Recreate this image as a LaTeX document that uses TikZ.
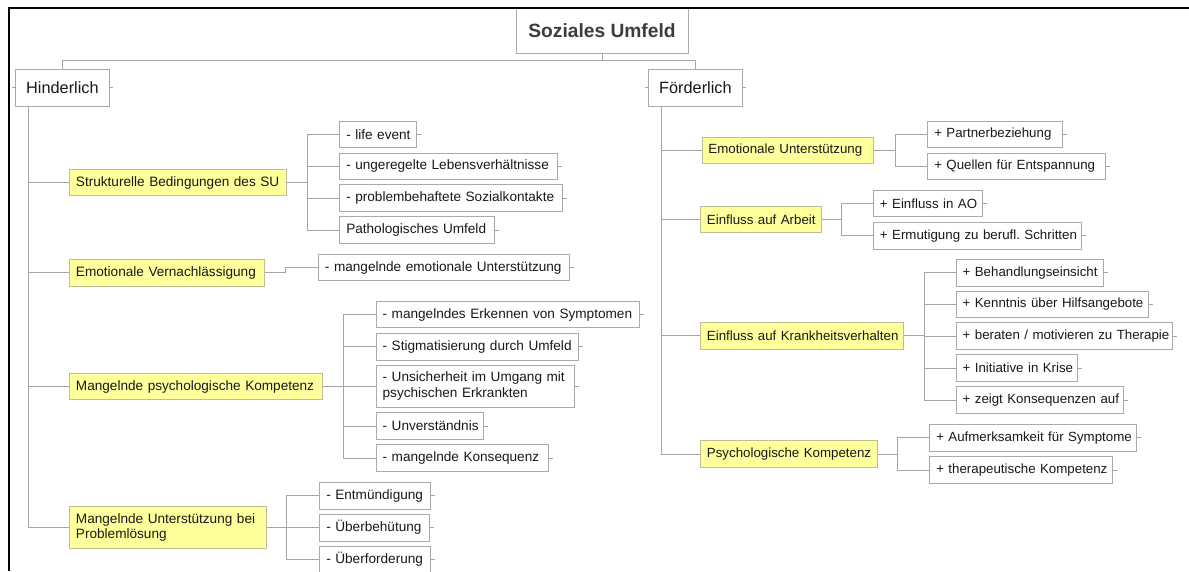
\documentclass[tikz,border=0pt]{standalone}
\usepackage{fontspec}
\setmainfont{Liberation Sans}
\usetikzlibrary{calc}
\frenchspacing
\definecolor{linegray}{RGB}{165,165,165}
\definecolor{boxgray}{RGB}{170,170,170}
\definecolor{ylw}{RGB}{255,255,155}
\definecolor{ylwborder}{RGB}{190,190,150}
\definecolor{txt}{RGB}{25,25,25}
\definecolor{darktxt}{RGB}{60,60,60}
\begin{document}
\begin{tikzpicture}[x=1pt,y=-1pt,
  conn/.style={draw=linegray, line width=0.9pt},
  bw/.code={\pgfmathsetmacro\tw{#1-13}\edef\tmp{\noexpand\tikzset{text width=\tw pt}}\tmp},
  oneline/.style={execute at begin node={\frenchspacing\hbox\bgroup}, execute at end node={\egroup}},
  leafbase/.style={draw=boxgray, line width=0.9pt, fill=white, anchor=west,
    minimum height=26.5pt, inner xsep=6.5pt, inner ysep=2pt,
    font=\fontsize{13.6}{15.5}\selectfont, text=txt, align=left},
  leaf/.style={leafbase, oneline},
  catbase/.style={leafbase, fill=ylw, draw=ylwborder},
  cat/.style={catbase, oneline},
  rsize/.style={font=\fontsize{13.3}{15.5}\selectfont},
  branchbox/.style={draw=boxgray, line width=0.9pt, fill=white, anchor=west,
    minimum height=37pt, minimum width=94pt,
    font=\fontsize{16.3}{19}\selectfont, text=txt},
  mainbox/.style={draw=boxgray, line width=0.9pt, fill=white,
    minimum width=172pt, minimum height=45pt,
    font=\bfseries\fontsize{19.2}{22}\selectfont, text=darktxt}]
\useasboundingbox (0,0) rectangle (1189,571);

% root and main branches
\node[mainbox] (root) at (602,30.5) {Soziales Umfeld};
\node[branchbox] (hind) at (15,87.5) {Hinderlich};
\node[branchbox] (foerd) at (648,87.5) {Förderlich};
\coordinate (rj) at (602,60.7);
\draw[conn] (root.south) -- (rj);
\draw[conn] (hind.north) |- (rj) -| (foerd.north);
\draw[conn] (hind.west) -- ++(-3,0) (hind.east) -- ++(3,0);
\draw[conn] (foerd.west) -- ++(-3,0) (foerd.east) -- ++(3,0);

% ---------- Hinderlich ----------
\coordinate (ht) at ($(hind.south west)+(13.7,0)$);
\node[cat, bw=216.7] (c1) at (69,182.5) {Strukturelle Bedingungen des SU};
\node[cat, bw=195] (c2) at (69,272.8) {Emotionale Vernachlässigung};
\node[cat, bw=252.7] (c3) at (69,386.5) {Mangelnde psychologische Kompetenz};
\node[catbase, bw=196.7, minimum height=42pt] (c4) at (69,527.7) {Mangelnde Unterstützung bei\\Problemlösung};
\draw[conn] (ht) |- (c1.west) (ht) |- (c2.west) (ht) |- (c3.west) (ht) |- (c4.west);

% group 1
\coordinate (b1) at (307,182.5);
\node[leaf, bw=76.4] (l11) at (339.3,134.5) {- life event};
\node[leaf, bw=217.4] (l12) at (339.3,166.2) {- ungeregelte Lebensverhältnisse};
\node[leaf, bw=223] (l13) at (339.3,198) {- problembehaftete Sozialkontakte};
\node[leaf, bw=154.4] (l14) at (339.3,230) {Pathologisches Umfeld};
\draw[conn] (c1.east) -- (b1);
\draw[conn] (b1) |- (l11.west) (b1) |- (l12.west) (b1) |- (l13.west) (b1) |- (l14.west);

% group 2
\node[leaf, bw=250.7] (l21) at (318,267.5) {- mangelnde emotionale Unterstützung};
\draw[conn] (c2.east) -- ++(21,0) |- (l21.west);

% group 3
\coordinate (b3) at (343.3,386.5);
\node[leaf, bw=263.3] (l31) at (375.7,314.5) {- mangelndes Erkennen von Symptomen};
\node[leaf, bw=202.6] (l32) at (375.7,346.7) {- Stigmatisierung durch Umfeld};
\node[leafbase, bw=198.3, minimum height=41.7pt] (l33) at (375.7,386.2) {- Unsicherheit im Umgang mit\\psychischen Erkrankten};
\node[leaf, bw=107.5] (l34) at (375.7,426) {- Unverständnis};
\node[leaf, bw=172.5] (l35) at (375.7,458) {- mangelnde Konsequenz};
\draw[conn] (c3.east) -- (b3);
\draw[conn] (b3) |- (l31.west) (b3) |- (l32.west) (b3) |- (l33.west) (b3) |- (l34.west) (b3) |- (l35.west);

% group 4
\coordinate (b4) at (286.7,527.7);
\node[leaf, bw=110.4] (l41) at (319.3,495.7) {- Entmündigung};
\node[leaf, bw=109.7] (l42) at (319.3,527.7) {- Überbehütung};
\node[leaf, bw=110.4] (l43) at (319.3,559.7) {- Überforderung};
\draw[conn] (c4.east) -- (b4);
\draw[conn] (b4) |- (l41.west) (b4) |- (l42.west) (b4) |- (l43.west);

% ---------- Förderlich ----------
\coordinate (ft) at ($(foerd.south west)+(13.5,0)$);
\node[cat, rsize, bw=171.6] (r1) at (701.5,150.3) {Emotionale Unterstützung};
\node[cat, rsize, bw=121] (r2) at (700,219.3) {Einfluss auf Arbeit};
\node[cat, rsize, bw=203.3] (r3) at (700,335.8) {Einfluss auf Krankheitsverhalten};
\node[cat, rsize, bw=177] (r4) at (700,454) {Psychologische Kompetenz};
\draw[conn] (ft) |- (r1.west) (ft) |- (r2.west) (ft) |- (r3.west) (ft) |- (r4.west);

% group R1
\coordinate (rb1) at (895,150.3);
\node[leaf, rsize, bw=134.4] (s11) at (927.3,134.3) {+ Partnerbeziehung};
\node[leaf, rsize, bw=177.7] (s12) at (927.3,166.3) {+ Quellen für Entspannung};
\draw[conn] (r1.east) -- (rb1);
\draw[conn] (rb1) |- (s11.west) (rb1) |- (s12.west);

% group R2
\coordinate (rb2) at (841.7,219.3);
\node[leaf, rsize, bw=108.7] (s21) at (873,203.3) {+ Einfluss in AO};
\node[leaf, rsize, bw=208] (s22) at (873,235.7) {+ Ermutigung zu berufl. Schritten};
\draw[conn] (r2.east) -- (rb2);
\draw[conn] (rb2) |- (s21.west) (rb2) |- (s22.west);

% group R3
\coordinate (rb3) at (924,335.8);
\node[leaf, rsize, bw=147] (s31) at (955.7,272.7) {+ Behandlungseinsicht};
\node[leaf, rsize, bw=192.3] (s32) at (955.7,304.3) {+ Kenntnis über Hilfsangebote};
\node[leaf, rsize, bw=216.6] (s33) at (955.7,336) {+ beraten / motivieren zu Therapie};
\node[leaf, rsize, bw=121.3] (s34) at (955.7,368) {+ Initiative in Krise};
\node[leaf, rsize, bw=167.3] (s35) at (955.7,400) {+ zeigt Konsequenzen auf};
\draw[conn] (r3.east) -- (rb3);
\draw[conn] (rb3) |- (s31.west) (rb3) |- (s32.west) (rb3) |- (s33.west) (rb3) |- (s34.west) (rb3) |- (s35.west);

% group R4
\coordinate (rb4) at (897.3,454);
\node[leaf, rsize, bw=207] (s41) at (929.3,437.7) {+ Aufmerksamkeit für Symptome};
\node[leaf, rsize, bw=183] (s42) at (929.3,470) {+ therapeutische Kompetenz};
\draw[conn] (r4.east) -- (rb4);
\draw[conn] (rb4) |- (s41.west) (rb4) |- (s42.west);

% stubs on leaves
\foreach \n in {l11,l12,l13,l14,l21,l31,l32,l33,l34,l35,l41,l42,l43,s11,s12,s21,s22,s31,s32,s33,s34,s35,s41,s42}
  \draw[conn] (\n.east) -- ++(4,0);

% frame
\draw[line width=2pt, black] (9,571) -- (9,7.7) -- (1189,7.7);
\end{tikzpicture}
\end{document}
